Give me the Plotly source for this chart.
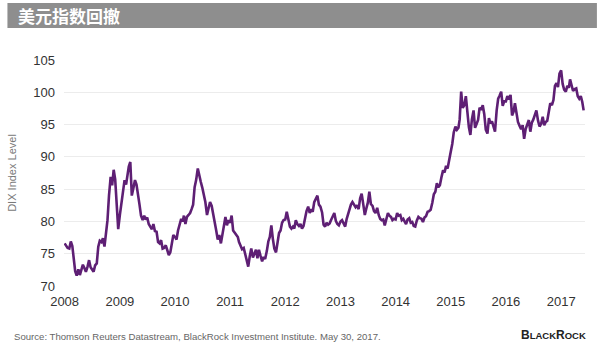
import plotly.graph_objects as go

# DXY readings, three per month (1st, 11th, 21st); 2017 ends with May 30
v2008 = [76.6, 76.2, 75.9, 75.8, 76.9, 76.2, 74.0, 72.3, 71.6, 72.6, 71.7, 72.4,
         73.3, 72.8, 72.2, 73.0, 74.0, 72.9, 72.6, 72.2, 73.2, 73.5, 76.1, 77.0,
         76.8, 77.4, 76.1, 78.0, 80.2, 84.0, 86.9, 85.6, 88.0, 86.5, 82.3, 78.8]
v2009 = [81.0, 82.8, 85.0, 86.4, 85.7, 87.4, 88.5, 89.2, 84.0, 85.2, 86.4, 85.7,
         84.4, 82.6, 80.9, 80.2, 80.9, 80.3, 80.6, 79.6, 79.2, 78.8, 79.6, 78.5,
         78.4, 76.8, 76.6, 77.1, 75.8, 75.9, 76.3, 75.3, 74.8, 75.2, 76.4, 77.9]
v2010 = [77.6, 77.2, 78.6, 79.8, 80.4, 80.0, 80.9, 79.6, 80.7, 81.0, 81.3, 81.9,
         82.6, 85.3, 86.4, 88.2, 86.9, 86.1, 85.2, 84.3, 83.0, 81.0, 82.0, 83.0,
         82.4, 81.3, 79.9, 78.6, 77.2, 77.9, 76.6, 78.2, 79.4, 80.7, 79.4, 80.2]
v2011 = [79.8, 80.9, 78.6, 78.2, 77.9, 77.6, 76.8, 76.3, 75.7, 75.9, 74.9, 74.2,
         73.0, 74.6, 75.8, 74.4, 75.2, 75.6, 74.3, 75.6, 74.7, 73.8, 74.5, 74.2,
         75.4, 76.9, 77.6, 79.4, 77.3, 75.8, 75.2, 77.2, 78.2, 78.6, 79.8, 80.2]
v2012 = [80.3, 81.5, 80.1, 79.2, 78.9, 79.2, 78.9, 80.2, 79.6, 79.3, 79.6, 78.9,
         79.3, 80.6, 81.6, 82.3, 81.3, 81.9, 81.5, 83.0, 83.4, 84.0, 82.6, 82.3,
         81.4, 79.5, 79.2, 79.8, 79.5, 79.7, 80.3, 80.9, 81.3, 80.1, 79.6, 79.4]
v2013 = [80.0, 80.2, 79.6, 79.2, 80.4, 81.2, 81.8, 82.6, 83.0, 82.6, 82.2, 82.5,
         81.9, 83.6, 84.3, 82.6, 81.0, 82.0, 82.9, 84.6, 82.7, 82.4, 81.6, 81.3,
         82.1, 81.0, 80.4, 80.2, 80.3, 79.4, 80.6, 81.3, 80.9, 80.7, 80.2, 80.4]
v2014 = [80.3, 81.3, 80.9, 81.0, 80.2, 80.4, 80.0, 79.6, 80.3, 80.5, 79.8, 79.9,
         79.3, 79.2, 80.1, 80.7, 80.5, 80.4, 79.9, 80.6, 80.8, 81.5, 81.6, 81.8,
         82.9, 84.2, 84.6, 85.9, 85.3, 85.6, 86.9, 87.9, 87.6, 88.6, 88.2, 89.8]
v2015 = [90.8, 92.0, 93.8, 94.7, 94.2, 94.5, 95.8, 100.1, 97.6, 98.0, 99.4, 97.0,
         94.6, 93.4, 95.8, 97.2, 94.5, 95.1, 95.7, 97.6, 97.3, 98.0, 96.6, 94.2,
         93.6, 96.0, 95.2, 95.5, 94.6, 93.9, 97.2, 99.0, 99.5, 100.1, 97.9, 98.6]
v2016 = [98.6, 99.4, 98.9, 99.6, 96.4, 97.0, 98.3, 96.7, 95.4, 94.8, 94.3, 94.9,
         92.8, 94.3, 95.1, 95.7, 93.9, 95.3, 95.8, 96.4, 97.2, 95.6, 94.7, 95.1,
         96.2, 94.9, 95.4, 95.6, 97.1, 98.3, 98.0, 98.8, 101.0, 101.4, 100.8, 102.9]
v2017 = [103.4, 101.3, 100.4, 100.1, 101.0, 100.7, 102.0, 100.8, 100.2,
         100.5, 100.6, 99.4, 99.0, 99.4, 98.5, 97.2]

years = list(range(2008, 2018))
tick_labels = [str(y) for y in years]
y_ticks = [70, 75, 80, 85, 90, 95, 100, 105]

title_text = "美元指数回撤"
y_title = "DIX Index Level"
source_text = "Source: Thomson Reuters Datastream, BlackRock Investment Institute. May 30, 2017."

dates = []
for y in range(2008, 2017):
    for m in range(1, 13):
        dates += [f"{y}-{m:02d}-{d:02d}" for d in (1, 11, 21)]
for m in range(1, 5):
    dates += [f"2017-{m:02d}-{d:02d}" for d in (1, 11, 21)]
dates += ["2017-05-01", "2017-05-11", "2017-05-21", "2017-05-30"]

values = v2008 + v2009 + v2010 + v2011 + v2012 + v2013 + v2014 + v2015 + v2016 + v2017

fig = go.Figure()
fig.add_trace(go.Scatter(
    x=dates, y=values, mode="lines",
    line=dict(color="#5e1f74", width=2.6),
    hoverinfo="skip", showlegend=False,
))

font_main = "Liberation Sans, Arial, sans-serif"
PLOT_W, PLOT_H, ML, MB = 525, 226, 60, 62


def px_x(x):
    return (x - ML) / PLOT_W


def px_y(y):
    return (348 - MB - y) / PLOT_H


fig.update_layout(
    width=600, height=348,
    margin=dict(l=ML, r=15, t=60, b=MB),
    paper_bgcolor="white", plot_bgcolor="white",
    font=dict(family=font_main, color="#333333"),
    xaxis=dict(
        type="date",
        range=["2007-12-28", "2017-06-08"],
        tickvals=[f"{y}-01-01" for y in years],
        ticktext=tick_labels,
        showgrid=False, zeroline=False, showline=False,
        ticks="", tickfont=dict(size=13, color="#333333"),
        ticklabelstandoff=6,
    ),
    yaxis=dict(
        range=[70, 105],
        tickvals=y_ticks,
        showgrid=True, gridcolor="#ececec", gridwidth=1,
        zeroline=False, showline=False, ticks="",
        tickfont=dict(size=13, color="#333333"),
        ticklabelstandoff=8,
        title=dict(text=y_title, font=dict(size=11, color="#7a7a7a"), standoff=14),
    ),
    shapes=[
        dict(type="rect", xref="paper", yref="paper",
             x0=px_x(3), x1=px_x(597), y0=px_y(28), y1=px_y(3),
             fillcolor="#8e8e8e", line=dict(width=0), layer="below"),
    ],
    annotations=[
        dict(text=f"<b>{title_text}</b>", xref="paper", yref="paper",
             x=px_x(12), y=px_y(16), xanchor="left", yanchor="middle",
             showarrow=False,
             font=dict(family="Noto Sans CJK SC", size=17, color="white")),
        dict(text=source_text, xref="paper", yref="paper",
             x=px_x(8), y=px_y(336), xanchor="left", yanchor="middle",
             showarrow=False, font=dict(size=9.6, color="#666666")),
        dict(text="<b>B<span style='font-size:9.5px'>LACK</span>R<span style='font-size:9.5px'>OCK</span></b>",
             xref="paper", yref="paper",
             x=px_x(588), y=px_y(335), xanchor="right", yanchor="middle",
             showarrow=False, font=dict(size=12, color="#222222")),
    ],
)

fig.write_html("out.html")
